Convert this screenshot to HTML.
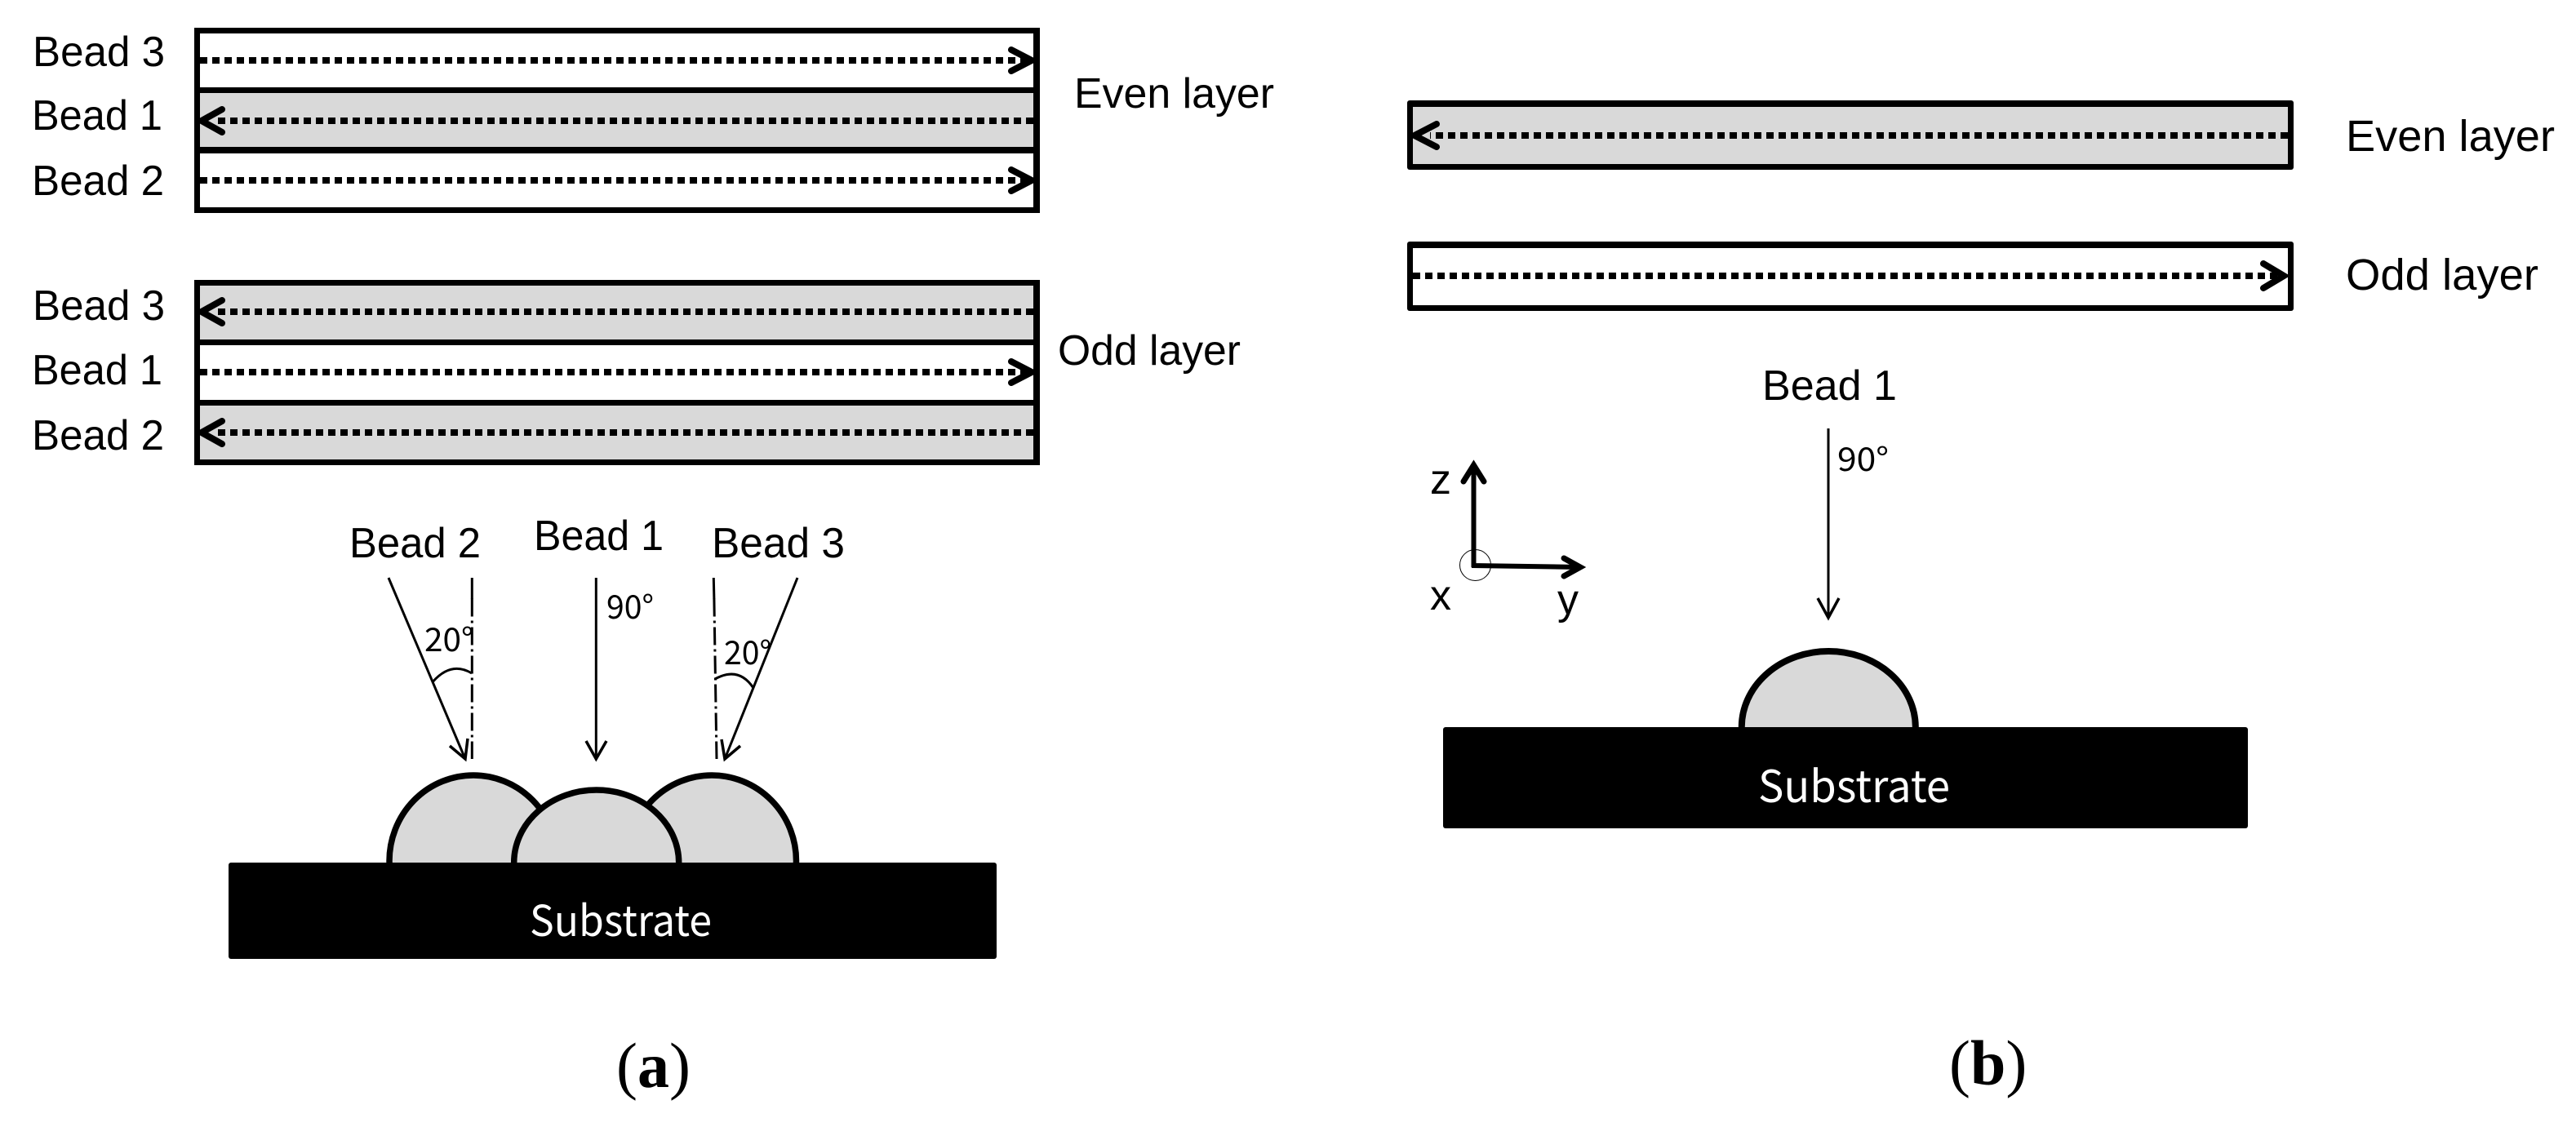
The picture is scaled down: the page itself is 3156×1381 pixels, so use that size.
<!DOCTYPE html>
<html><head><meta charset="utf-8"><style>
html,body{margin:0;padding:0;background:#fff}
svg{display:block}
.t{font-family:"Liberation Sans",sans-serif;font-size:52px;fill:#000}
.m{font-family:"Noto Sans CJK KR","Liberation Sans",sans-serif;fill:#000}
.d{stroke:#000;stroke-width:8;stroke-dasharray:9 6;fill:none}
.h{stroke:#000;stroke-width:8;stroke-linecap:round;stroke-linejoin:miter;fill:none}
.n{stroke:#000;stroke-width:3;fill:none}
.a{stroke:#000;stroke-width:3.5;fill:none;stroke-linejoin:miter}
.b{fill:#d9d9d9;stroke:#000;stroke-width:7.5}
</style></head><body>
<svg width="3156" height="1381" viewBox="0 0 3156 1381" xmlns="http://www.w3.org/2000/svg">
<rect width="3156" height="1381" fill="#fff"/>
<!-- upper left box -->
<rect x="238" y="114" width="1036" height="66" fill="#d9d9d9"/>
<rect x="238" y="34" width="1036" height="7"/><rect x="238" y="107" width="1036" height="7"/>
<rect x="238" y="180" width="1036" height="8"/><rect x="238" y="254" width="1036" height="7"/>
<rect x="238" y="34" width="7" height="227"/><rect x="1266" y="34" width="8" height="227"/>
<path class="d" d="M245 74H1262"/><path class="h" d="M1239 61L1264 74L1239 87"/>
<path class="d" d="M1266 148H265"/><path class="h" d="M272 134L247 148L272 162"/>
<path class="d" d="M245 221H1262"/><path class="h" d="M1239 208L1264 221L1239 234"/>
<!-- lower left box -->
<rect x="238" y="349" width="1036" height="67" fill="#d9d9d9"/><rect x="238" y="496" width="1036" height="67" fill="#d9d9d9"/>
<rect x="238" y="343" width="1036" height="7"/><rect x="238" y="416" width="1036" height="7"/>
<rect x="238" y="490" width="1036" height="7"/><rect x="238" y="563" width="1036" height="7"/>
<rect x="238" y="343" width="7" height="227"/><rect x="1266" y="343" width="8" height="227"/>
<path class="d" d="M1266 382H265"/><path class="h" d="M272 368L247 382L272 396"/>
<path class="d" d="M245 456H1262"/><path class="h" d="M1239 443L1264 456L1239 469"/>
<path class="d" d="M1266 530H265"/><path class="h" d="M272 516L247 530L272 544"/>
<!-- left labels -->
<text class="t" x="40" y="81" textLength="162" lengthAdjust="spacingAndGlyphs">Bead 3</text>
<text class="t" x="39" y="159" textLength="160" lengthAdjust="spacingAndGlyphs">Bead 1</text>
<text class="t" x="39" y="239" textLength="162" lengthAdjust="spacingAndGlyphs">Bead 2</text>
<text class="t" x="40" y="392" textLength="162" lengthAdjust="spacingAndGlyphs">Bead 3</text>
<text class="t" x="39" y="471" textLength="160" lengthAdjust="spacingAndGlyphs">Bead 1</text>
<text class="t" x="39" y="551" textLength="162" lengthAdjust="spacingAndGlyphs">Bead 2</text>
<text class="t" x="1316" y="132" textLength="245" lengthAdjust="spacingAndGlyphs">Even layer</text>
<text class="t" x="1296" y="447" textLength="224" lengthAdjust="spacingAndGlyphs">Odd layer</text>
<!-- beads a -->
<ellipse class="b" cx="580" cy="1055" rx="103" ry="105"/>
<ellipse class="b" cx="872" cy="1055" rx="103.5" ry="105"/>
<ellipse class="b" cx="730.7" cy="1057" rx="101" ry="89"/>
<rect x="280" y="1057" width="941" height="118" rx="3"/>
<text class="m" x="649" y="1147" font-size="52" style="fill:#fff" textLength="223" lengthAdjust="spacingAndGlyphs">Substrate</text>
<!-- top labels a -->
<text class="t" x="428" y="683" textLength="161" lengthAdjust="spacingAndGlyphs">Bead 2</text>
<text class="t" x="654" y="674" textLength="159" lengthAdjust="spacingAndGlyphs">Bead 1</text>
<text class="t" x="872" y="683" textLength="163" lengthAdjust="spacingAndGlyphs">Bead 3</text>
<!-- arrows a -->
<path class="n" d="M476 708L570 930"/><path class="a" d="M551 914L570 930L573 905"/>
<path class="n" d="M578.3 708V734"/>
<path class="n" d="M578.3 733.5V930" stroke-dasharray="22 5 3 5"/>
<path class="n" d="M530.7 835Q553 810 578 825"/>
<path class="n" d="M730.3 708V930"/><path class="a" d="M718 908L730.3 930L743 908"/>
<path class="n" d="M977 708L888 930"/><path class="a" d="M884 906L888 930L907 914"/>
<path class="n" d="M874.3 708L874.9 734"/>
<path class="n" d="M874.9 733.5L878 930" stroke-dasharray="22 5 3 5"/>
<path class="n" d="M876 832Q905 816 923 843"/>
<text class="m" x="520" y="798" font-size="40" textLength="60" lengthAdjust="spacingAndGlyphs">20°</text>
<text class="m" x="743" y="758" font-size="40" textLength="58" lengthAdjust="spacingAndGlyphs">90°</text>
<text class="m" x="887" y="814" font-size="40" textLength="58" lengthAdjust="spacingAndGlyphs">20°</text>
<!-- right boxes -->
<rect x="1724" y="123" width="1086" height="85" fill="#000" rx="3"/>
<rect x="1731" y="131" width="1072" height="70" fill="#d9d9d9"/>
<path class="d" d="M2803 166H1752"/><path class="h" d="M1760 152L1733 166L1760 180"/>
<rect x="1724" y="296" width="1086" height="85" fill="#000" rx="3"/>
<rect x="1731" y="304" width="1072" height="70" fill="#fff"/>
<path class="d" d="M1731 338H2790"/><path class="h" d="M2773 323L2798 338L2773 353"/>
<text class="t" x="2874" y="185" style="font-size:54px" textLength="256" lengthAdjust="spacingAndGlyphs">Even layer</text>
<text class="t" x="2874" y="355" style="font-size:54px" textLength="236" lengthAdjust="spacingAndGlyphs">Odd layer</text>
<text class="t" x="2159" y="490" textLength="165" lengthAdjust="spacingAndGlyphs">Bead 1</text>
<path class="n" d="M2240 525V756"/><path class="a" d="M2227 733L2240 757L2253 733"/>
<text class="m" x="2251" y="577" font-size="40" textLength="63" lengthAdjust="spacingAndGlyphs">90°</text>
<!-- axes -->
<circle cx="1807.5" cy="692.5" r="19" fill="none" stroke="#000" stroke-width="1"/>
<path d="M1805.5 695V572M1803 693L1936 695" stroke="#000" stroke-width="6" fill="none"/>
<path d="M1793 590L1805.5 570L1818 590" stroke="#000" stroke-width="7" stroke-linecap="round" fill="none"/>
<path d="M1916 684L1936 695L1916 706" stroke="#000" stroke-width="7" stroke-linecap="round" fill="none"/>
<text class="t" x="1752" y="605">z</text>
<text class="t" x="1752" y="747">x</text>
<text class="t" x="1908" y="752">y</text>
<!-- bead b -->
<ellipse cx="2240.3" cy="891" rx="106.5" ry="93" fill="#d9d9d9" stroke="#000" stroke-width="8"/>
<rect x="1768" y="891" width="986" height="124" rx="3"/>
<text class="m" x="2154" y="983" font-size="54" style="fill:#fff" textLength="235" lengthAdjust="spacingAndGlyphs">Substrate</text>
<!-- captions -->
<text x="755" y="1332" font-family="'Liberation Serif',serif" font-size="78">(<tspan font-weight="bold">a</tspan>)</text>
<text x="2388" y="1329" font-family="'Liberation Serif',serif" font-size="78">(<tspan font-weight="bold">b</tspan>)</text>
</svg>
</body></html>
